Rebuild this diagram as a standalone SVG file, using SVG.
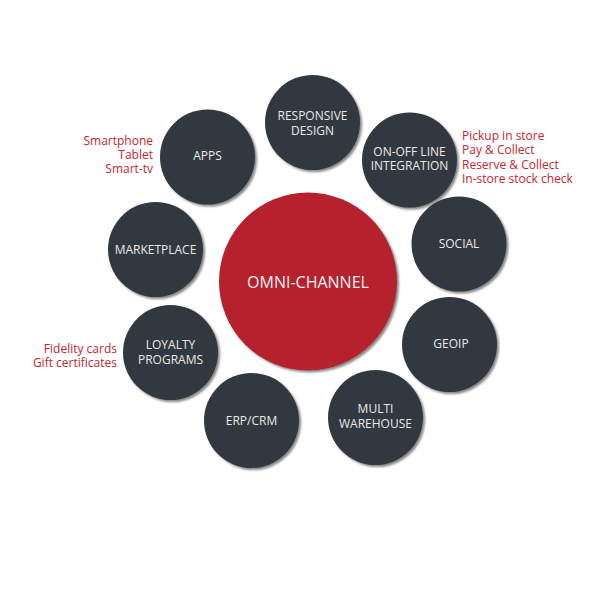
<svg xmlns="http://www.w3.org/2000/svg" width="600" height="600" viewBox="0 0 600 600">
<defs>
<filter id="sh" x="-20%" y="-20%" width="140%" height="140%">
<feDropShadow dx="2" dy="2" stdDeviation="1" flood-color="#555" flood-opacity="0.7"/>
</filter>
<style>
.n{fill:#333840;filter:url(#sh)}
.c{fill:#B5202D;filter:url(#sh)}
.t{font-family:"Open Sans","DejaVu Sans",sans-serif;font-size:12px;fill:#E8E8E8;text-anchor:middle}
.tc{font-family:"Open Sans","DejaVu Sans",sans-serif;font-size:16px;fill:#F2F2F2;text-anchor:middle}
.r{font-family:"Open Sans","DejaVu Sans",sans-serif;font-size:12px;fill:#C4262E}
.re{text-anchor:end}
</style>
</defs>
<rect width="600" height="600" fill="#fff"/>
<g id="connectors"/>
<g id="omni">
<circle class="c" cx="308" cy="281.5" r="89"/>
<text class="tc" x="308" y="287.5">OMNI-CHANNEL</text>
</g>
<g id="responsive">
<circle class="n" cx="312.5" cy="122.5" r="47.5"/>
<text class="t" x="312.5" y="120">RESPONSIVE</text>
<text class="t" x="312.5" y="134.5">DESIGN</text>
</g>
<g id="apps">
<circle class="n" cx="207.5" cy="157" r="47.5"/>
<text class="t" x="207.5" y="159.5">APPS</text>
</g>
<g id="apps-labels">
<text class="r re" x="153" y="145">Smartphone</text>
<text class="r re" x="153" y="159">Tablet</text>
<text class="r re" x="153" y="173">Smart-tv</text>
</g>
<g id="onoff">
<circle class="n" cx="409.5" cy="160" r="47.5"/>
<text class="t" x="409.5" y="156">ON-OFF LINE</text>
<text class="t" x="409.5" y="170">INTEGRATION</text>
</g>
<g id="onoff-labels">
<text class="r" x="462" y="139.5">Pickup in store</text>
<text class="r" x="462" y="154">Pay &amp; Collect</text>
<text class="r" x="462" y="168.5">Reserve &amp; Collect</text>
<text class="r" x="462" y="183">In-store stock check</text>
</g>
<g id="social">
<circle class="n" cx="459" cy="244" r="47.5"/>
<text class="t" x="459" y="247.5">SOCIAL</text>
</g>
<g id="geoip">
<circle class="n" cx="449.5" cy="344.5" r="47.5"/>
<text class="t" x="451" y="348">GEOIP</text>
</g>
<g id="multi">
<circle class="n" cx="375.5" cy="417.5" r="47.5"/>
<text class="t" x="375.5" y="413">MULTI</text>
<text class="t" x="375.5" y="427.5">WAREHOUSE</text>
</g>
<g id="erp">
<circle class="n" cx="251.5" cy="420.5" r="47.5"/>
<text class="t" x="251.5" y="425">ERP/CRM</text>
</g>
<g id="loyalty">
<circle class="n" cx="170.5" cy="352.5" r="47.5"/>
<text class="t" x="170.5" y="348.5">LOYALTY</text>
<text class="t" x="170.5" y="363.5">PROGRAMS</text>
</g>
<g id="loyalty-labels">
<text class="r re" x="117" y="352.5">Fidelity cards</text>
<text class="r re" x="117" y="366.5">Gift certificates</text>
</g>
<g id="marketplace">
<circle class="n" cx="155.5" cy="249.5" r="47.5"/>
<text class="t" x="155.5" y="254">MARKETPLACE</text>
</g>
</svg>
